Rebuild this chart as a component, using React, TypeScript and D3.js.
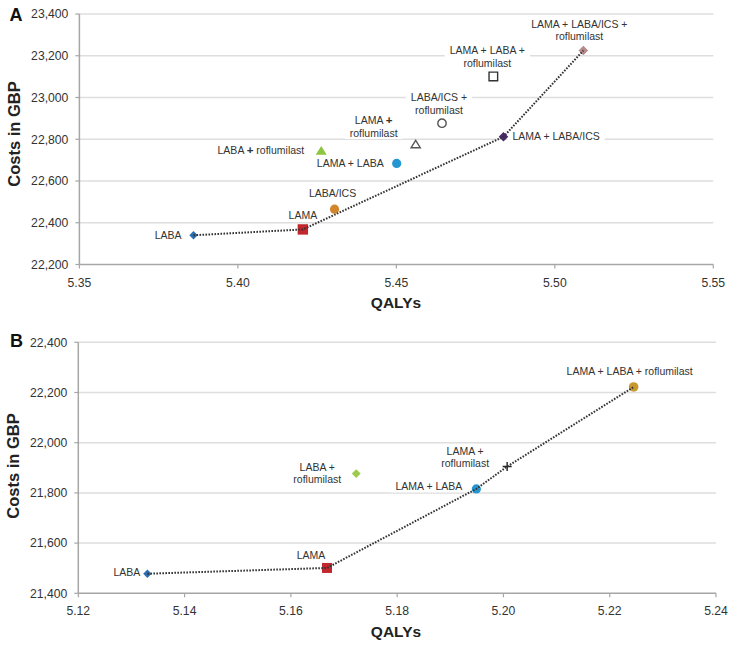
import React, { useEffect, useRef } from 'react';
import * as d3 from 'd3';

// ---- panel A data (all strategies) ----
const treatmentsA = [
  'LABA',
  'LAMA',
  'LABA/ICS',
  'LABA + roflumilast',
  'LAMA + LABA',
  'LAMA + roflumilast',
  'LABA/ICS + roflumilast',
  'LAMA + LABA + roflumilast',
  'LAMA + LABA/ICS',
  'LAMA + LABA/ICS + roflumilast',
];
const qalysA = [5.386, 5.4205, 5.4305, 5.4263, 5.4501, 5.4561, 5.4644, 5.4806, 5.4838, 5.509];
const costsA = [22340, 22368, 22465, 22745, 22684, 22776, 22877, 23101, 22812, 23225];
const frontierA = ['LABA', 'LAMA', 'LAMA + LABA/ICS', 'LAMA + LABA/ICS + roflumilast'];
const xTicksA = [5.35, 5.4, 5.45, 5.5, 5.55];
const yTicksA = [22200, 22400, 22600, 22800, 23000, 23200, 23400];

// ---- panel B data ----
const treatmentsB = [
  'LABA',
  'LAMA',
  'LABA + roflumilast',
  'LAMA + LABA',
  'LAMA + roflumilast',
  'LAMA + LABA + roflumilast',
];
const qalysB = [5.133, 5.1668, 5.1723, 5.1949, 5.2007, 5.2245];
const costsB = [21478, 21501, 21877, 21816, 21905, 22222];
const frontierB = ['LABA', 'LAMA', 'LAMA + LABA', 'LAMA + roflumilast', 'LAMA + LABA + roflumilast'];
const xTicksB = [5.12, 5.14, 5.16, 5.18, 5.2, 5.22, 5.24];
const yTicksB = [21400, 21600, 21800, 22000, 22200, 22400];

// marker look per strategy
const markersA: any = {
  'LABA': { shape: 'diamond', fill: '#2a6fb2', r: 4.2 },
  'LAMA': { shape: 'square', fill: '#c1272d', r: 5.2 },
  'LABA/ICS': { shape: 'circle', fill: '#d2862c', r: 4.6 },
  'LABA + roflumilast': { shape: 'triangle', fill: '#8cc63e', r: 5.5 },
  'LAMA + LABA': { shape: 'circle', fill: '#2596d1', r: 4.6 },
  'LAMA + roflumilast': { shape: 'triangle', fill: '#fff', stroke: '#555', r: 4.6 },
  'LABA/ICS + roflumilast': { shape: 'circle', fill: '#fff', stroke: '#555', r: 4.2 },
  'LAMA + LABA + roflumilast': { shape: 'square', fill: '#fff', stroke: '#333', r: 4.3 },
  'LAMA + LABA/ICS': { shape: 'diamond', fill: '#4a2a6c', r: 4.8 },
  'LAMA + LABA/ICS + roflumilast': { shape: 'diamond', fill: '#b88a8c', r: 4.8 },
};
const markersB: any = {
  'LABA': { shape: 'diamond', fill: '#2a6fb2', r: 4.2 },
  'LAMA': { shape: 'square', fill: '#c1272d', r: 5 },
  'LABA + roflumilast': { shape: 'diamond', fill: '#9acb4c', r: 4.4 },
  'LAMA + LABA': { shape: 'circle', fill: '#2596d1', r: 4.6 },
  'LAMA + roflumilast': { shape: 'plus', fill: 'none', stroke: '#222', r: 4.5 },
  'LAMA + LABA + roflumilast': { shape: 'circle', fill: '#c8982f', r: 4.8 },
};

// label placement relative to the marker
const labelsA: any = {
  'LABA': { lines: ['LABA'], anchor: 'end', dx: -12, dy: 0 },
  'LAMA': { lines: ['LAMA'], anchor: 'middle', dx: 0, dy: -14 },
  'LABA/ICS': { lines: ['LABA/ICS'], anchor: 'middle', dx: -2, dy: -16 },
  'LABA + roflumilast': { lines: ['LABA + roflumilast'], anchor: 'end', dx: -17, dy: 0, boldPlus: true },
  'LAMA + LABA': { lines: ['LAMA + LABA'], anchor: 'end', dx: -13, dy: 0 },
  'LAMA + roflumilast': { lines: ['LAMA +', 'roflumilast'], anchor: 'middle', dx: -42, dy: -24, boldPlus: true },
  'LABA/ICS + roflumilast': { lines: ['LABA/ICS +', 'roflumilast'], anchor: 'middle', dx: -3, dy: -25.5 },
  'LAMA + LABA + roflumilast': { lines: ['LAMA + LABA +', 'roflumilast'], anchor: 'middle', dx: -6, dy: -25.7 },
  'LAMA + LABA/ICS': { lines: ['LAMA + LABA/ICS'], anchor: 'start', dx: 9, dy: 0 },
  'LAMA + LABA/ICS + roflumilast': { lines: ['LAMA + LABA/ICS +', 'roflumilast'], anchor: 'middle', dx: -4, dy: -26.5 },
};
const labelsB: any = {
  'LABA': { lines: ['LABA'], anchor: 'end', dx: -7, dy: -1 },
  'LAMA': { lines: ['LAMA'], anchor: 'middle', dx: -16, dy: -12.7 },
  'LABA + roflumilast': { lines: ['LABA +', 'roflumilast'], anchor: 'middle', dx: -39, dy: -6.6 },
  'LAMA + LABA': { lines: ['LAMA + LABA'], anchor: 'end', dx: -14, dy: -2.7 },
  'LAMA + roflumilast': { lines: ['LAMA +', 'roflumilast'], anchor: 'middle', dx: -42, dy: -15.6 },
  'LAMA + LABA + roflumilast': { lines: ['LAMA + LABA + roflumilast'], anchor: 'middle', dx: -4, dy: -16 },
};

const FONT = "'Liberation Sans', Arial, sans-serif";

function markerPath(shape: string, r: number) {
  if (shape === 'diamond') return `M0,${-r}L${r},0L0,${r}L${-r},0Z`;
  if (shape === 'square') return `M${-r},${-r}H${r}V${r}H${-r}Z`;
  if (shape === 'triangle') return `M0,${-r * 0.85}L${r},${r * 0.75}L${-r},${r * 0.75}Z`;
  if (shape === 'plus') return `M${-r},0H${r}M0,${-r}V${r}`;
  return d3.arc()({ innerRadius: 0, outerRadius: r, startAngle: 0, endAngle: 2 * Math.PI } as any) as string;
}

function drawPanel(root: any, p: any) {
  const x = d3.scaleLinear().domain(p.xDomain).range(p.xRange);
  const y = d3.scaleLinear().domain(p.yDomain).range(p.yRange);
  const g = root.append('g');
  const [x0, x1] = p.xRange;
  const [yb, yt] = p.yRange;

  // gridlines
  g.selectAll('line.grid')
    .data(p.yTicks.slice(1))
    .enter()
    .append('line')
    .attr('x1', x0)
    .attr('x2', x1)
    .attr('y1', (d: number) => y(d))
    .attr('y2', (d: number) => y(d))
    .attr('stroke', '#dedede')
    .attr('stroke-width', 1.5);

  // axes
  g.append('line').attr('x1', x0).attr('x2', x0).attr('y1', yt).attr('y2', yb).attr('stroke', '#a6a6a6').attr('stroke-width', 1.5);
  g.append('line').attr('x1', x0).attr('x2', x1).attr('y1', yb).attr('y2', yb).attr('stroke', '#a6a6a6').attr('stroke-width', 1.5);

  p.yTicks.forEach((t: number) => {
    g.append('line').attr('x1', x0 - 4).attr('x2', x0).attr('y1', y(t)).attr('y2', y(t)).attr('stroke', '#a6a6a6').attr('stroke-width', 1.2);
    g.append('text')
      .attr('x', x0 - 11)
      .attr('y', y(t))
      .attr('dy', '0.35em')
      .attr('text-anchor', 'end')
      .attr('font-size', 12.2)
      .attr('fill', '#333')
      .text(d3.format(',')(t));
  });
  p.xTicks.forEach((t: number) => {
    g.append('line').attr('x1', x(t)).attr('x2', x(t)).attr('y1', yb).attr('y2', yb + 4).attr('stroke', '#a6a6a6').attr('stroke-width', 1.2);
    g.append('text')
      .attr('x', x(t))
      .attr('y', yb + p.xLabelGap)
      .attr('dy', '0.35em')
      .attr('text-anchor', 'middle')
      .attr('font-size', 12.2)
      .attr('fill', '#333')
      .text(d3.format('.2f')(t));
  });

  // titles
  g.append('text')
    .attr('transform', `translate(${p.yTitleX},${p.yTitleY}) rotate(-90)`)
    .attr('text-anchor', 'middle')
    .attr('dy', '0.35em')
    .attr('font-size', 16.5)
    .attr('font-weight', 'bold')
    .attr('fill', '#222')
    .text('Costs in GBP');
  g.append('text')
    .attr('x', p.xTitleX)
    .attr('y', p.xTitleY)
    .attr('dy', '0.35em')
    .attr('text-anchor', 'middle')
    .attr('font-size', 15.5)
    .attr('font-weight', 'bold')
    .attr('fill', '#222')
    .text('QALYs');
  g.append('text')
    .attr('x', p.tagX)
    .attr('y', p.tagY)
    .attr('dy', '0.35em')
    .attr('text-anchor', 'middle')
    .attr('font-size', 18)
    .attr('font-weight', 'bold')
    .attr('fill', '#111')
    .text(p.tag);

  // data labels with white boxes
  p.names.forEach((name: string, i: number) => {
    const lab = p.labels[name];
    const px = x(p.qalys[i]);
    const py = y(p.costs[i]);
    const lg = g.append('g');
    const rect = lg.append('rect').attr('fill', '#fff');
    lab.lines.forEach((line: string, k: number) => {
      const t = lg
        .append('text')
        .attr('x', px + lab.dx)
        .attr('y', py + lab.dy + k * 12.6)
        .attr('dy', '0.35em')
        .attr('text-anchor', lab.anchor)
        .attr('font-size', 10.5)
        .attr('fill', '#333');
      if (lab.boldPlus && line.includes('+')) {
        const parts = line.split('+');
        parts.forEach((part: string, j: number) => {
          t.append('tspan').text(part);
          if (j < parts.length - 1) t.append('tspan').attr('font-weight', 'bold').attr('font-size', 11.5).text('+');
        });
      } else {
        t.text(line);
      }
    });
    const bb = (lg.node() as SVGGElement).getBBox();
    rect
      .attr('x', bb.x - 5)
      .attr('y', bb.y - 0.5)
      .attr('width', bb.width + 10)
      .attr('height', bb.height + 1);
  });

  // markers
  p.names.forEach((name: string, i: number) => {
    const m = p.markers[name];
    g.append('path')
      .attr('transform', `translate(${x(p.qalys[i])},${y(p.costs[i])})`)
      .attr('d', markerPath(m.shape, m.r))
      .attr('fill', m.fill)
      .attr('stroke', m.stroke || 'none')
      .attr('stroke-width', m.stroke ? 1.4 : 0);
  });

  // efficiency frontier (dotted)
  const pts = p.frontier.map((n: string) => {
    const i = p.names.indexOf(n);
    return [x(p.qalys[i]), y(p.costs[i])] as [number, number];
  });
  g.append('path')
    .attr('d', d3.line()(pts))
    .attr('fill', 'none')
    .attr('stroke', '#333')
    .attr('stroke-width', 2)
    .attr('stroke-dasharray', '1.6 1.4');
}

export default function App() {
  const ref = useRef<SVGSVGElement>(null);

  useEffect(() => {
    const svg = d3.select(ref.current);
    svg.selectAll('*').remove();
    drawPanel(svg, {
      tag: 'A', tagX: 16, tagY: 15,
      names: treatmentsA, qalys: qalysA, costs: costsA, frontier: frontierA,
      markers: markersA, labels: labelsA,
      xTicks: xTicksA, yTicks: yTicksA,
      xDomain: [5.35, 5.55], xRange: [79.4, 713.3],
      yDomain: [22200, 23400], yRange: [264.5, 14],
      xLabelGap: 18.5, xTitleX: 396, xTitleY: 303,
      yTitleX: 14, yTitleY: 134,
    });
    drawPanel(svg, {
      tag: 'B', tagX: 16.5, tagY: 341,
      names: treatmentsB, qalys: qalysB, costs: costsB, frontier: frontierB,
      markers: markersB, labels: labelsB,
      xTicks: xTicksB, yTicks: yTicksB,
      xDomain: [5.12, 5.24], xRange: [78.3, 716],
      yDomain: [21400, 22400], yRange: [593.3, 342.3],
      xLabelGap: 17, xTitleX: 396, xTitleY: 632,
      yTitleX: 13, yTitleY: 466,
    });
  }, []);

  return (
    <svg
      ref={ref}
      width={734}
      height={645}
      style={{ position: 'absolute', left: 0, top: 0, background: '#fff', fontFamily: FONT }}
    />
  );
}
